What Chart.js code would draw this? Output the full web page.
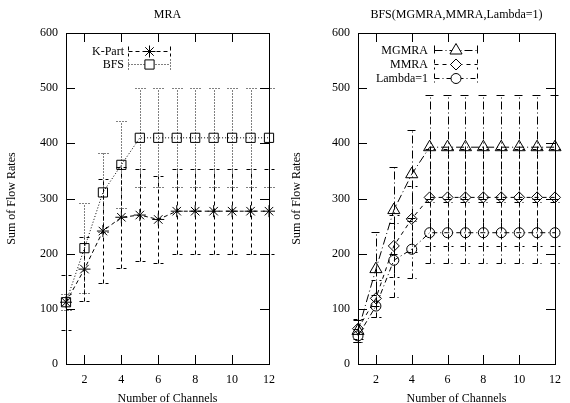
<!DOCTYPE html>
<html>
<head>
<meta charset="utf-8">
<script src="https://cdn.jsdelivr.net/npm/chart.js@4"></script>
<style>
html, body { margin: 0; padding: 0; background: #fff; }
#wrap { display: flex; width: 570px; height: 403px; }
.cell { width: 285px; height: 403px; position: relative; }
</style>
</head>
<body>
<div id="wrap">
  <div class="cell"><canvas id="left"></canvas></div>
  <div class="cell"><canvas id="right"></canvas></div>
</div>
<script>
// data
const channels = [1, 2, 3, 4, 5, 6, 7, 8, 9, 10, 11, 12];
const xTicks = [2, 4, 6, 8, 10, 12];
const yTicks = [0, 100, 200, 300, 400, 500, 600];

// MRA panel
const kpart    = [112, 172, 241, 266, 270, 262, 277, 277, 277, 277, 277, 277];
const kpartErr = [50, 58, 94, 92, 83, 79, 77, 77, 77, 77, 77, 77];
const bfs      = [112, 210, 311, 361, 410, 410, 410, 410, 410, 410, 410, 410];
const bfsErr   = [14, 81, 71, 79, 90, 90, 90, 90, 90, 90, 90, 90];

// BFS panel
const mgmra      = [60, 172, 279, 344, 393, 393, 393, 393, 393, 393, 393, 393];
const mgmraErr   = [20, 67, 79, 80, 94, 94, 94, 94, 94, 94, 94, 94];
const mmra       = [64, 119, 214, 263, 302, 302, 302, 302, 302, 302, 302, 302];
const mmraErr    = [18, 33, 56, 60, 88, 88, 88, 88, 88, 88, 88, 88];
const lambda1    = [51, 105, 188, 208, 238, 238, 238, 238, 238, 238, 238, 238];
const lambda1Err = [12, 20, 67, 52, 55, 55, 55, 55, 55, 55, 55, 55];

const FONT = 'Liberation Serif';

function series(label, values, errs, dash, style, radius) {
  return {
    label: label,
    data: values.map((v, i) => ({ x: channels[i], y: v })),
    errors: errs,
    borderColor: '#000',
    borderWidth: 1,
    borderDash: dash,
    pointStyle: style,
    pointRadius: radius,
    pointBorderColor: '#000',
    pointBackgroundColor: 'rgba(0,0,0,0)',
    pointBorderWidth: 1,
    clip: false,
    tension: 0
  };
}

// vertical error bars with caps, same dash as the line
const errorBars = {
  id: 'errorBars',
  beforeDatasetsDraw(chart) {
    const { ctx, scales: { x, y } } = chart;
    ctx.save();
    ctx.strokeStyle = '#000';
    ctx.lineWidth = 1;
    chart.data.datasets.forEach(ds => {
      ctx.setLineDash(ds.borderDash);
      ctx.beginPath();
      ds.data.forEach((p, i) => {
        const e = ds.errors[i];
        const px = Math.round(x.getPixelForValue(p.x)) + 0.5;
        const lo = Math.round(y.getPixelForValue(p.y - e)) + 0.5;
        const hi = Math.round(y.getPixelForValue(p.y + e)) + 0.5;
        ctx.moveTo(px, lo); ctx.lineTo(px, hi);
        ctx.moveTo(px - 5, lo); ctx.lineTo(px + 5, lo);
        ctx.moveTo(px - 5, hi); ctx.lineTo(px + 5, hi);
      });
      ctx.stroke();
    });
    ctx.restore();
  }
};

// gnuplot-like frame, inward ticks, title and key
const frame = {
  id: 'frame',
  afterDraw(chart, args, opts) {
    const { ctx, chartArea: a, scales: { x, y } } = chart;
    ctx.save();
    ctx.strokeStyle = '#000';
    ctx.lineWidth = 1;
    ctx.setLineDash([]);
    ctx.beginPath();
    x.ticks.forEach(t => {
      const px = Math.round(x.getPixelForValue(t.value)) + 0.5;
      ctx.moveTo(px, a.bottom); ctx.lineTo(px, a.bottom - 9);
      ctx.moveTo(px, a.top); ctx.lineTo(px, a.top + 9);
    });
    y.ticks.forEach(t => {
      const py = Math.round(y.getPixelForValue(t.value)) + 0.5;
      ctx.moveTo(a.left, py); ctx.lineTo(a.left + 9, py);
      ctx.moveTo(a.right, py); ctx.lineTo(a.right - 9, py);
    });
    ctx.stroke();
    ctx.strokeRect(Math.round(a.left) + 0.5, Math.round(a.top) + 0.5,
      Math.round(a.right - a.left), Math.round(a.bottom - a.top));

    ctx.fillStyle = '#000';
    ctx.font = '12px "' + FONT + '"';
    ctx.textAlign = 'center';
    ctx.textBaseline = 'middle';
    ctx.fillText(opts.title, (a.left + a.right) / 2, 15);

    // key
    const k = opts.key;
    chart.data.datasets.forEach((ds, i) => {
      const ry = k.rows[i] + 0.5;
      ctx.textAlign = 'right';
      ctx.fillText(ds.label, k.textRight, ry);
      ctx.setLineDash(ds.borderDash);
      ctx.beginPath();
      ctx.moveTo(k.x1 + 0.5, ry); ctx.lineTo(k.x2 + 0.5, ry);
      ctx.moveTo(k.x1 + 0.5, ry - 5); ctx.lineTo(k.x1 + 0.5, ry + 5);
      ctx.moveTo(k.x2 + 0.5, ry - 5); ctx.lineTo(k.x2 + 0.5, ry + 5);
      ctx.stroke();
      ctx.setLineDash([]);
      ctx.fillStyle = '#fff';
      Chart.helpers.drawPoint(ctx, { pointStyle: ds.pointStyle, radius: ds.pointRadius, rotation: 0, borderWidth: 1 },
        (k.x1 + k.x2) / 2 + 0.5, ry);
      ctx.fillStyle = '#000';
    });
    ctx.restore();
  }
};

function makeChart(id, datasets, title, key, leftWidth, padRight) {
  return new Chart(document.getElementById(id), {
    type: 'line',
    data: { datasets: datasets },
    options: {
      responsive: false,
      animation: false,
      layout: { padding: { top: 33, right: padRight, bottom: 0, left: 0 } },
      plugins: {
        legend: { display: false },
        tooltip: { enabled: false },
        frame: { title: title, key: key }
      },
      scales: {
        x: {
          type: 'linear', min: 1, max: 12,
          afterBuildTicks: s => { s.ticks = xTicks.map(v => ({ value: v })); },
          afterFit: s => { s.height = 39; },
          grid: { display: false, drawTicks: false },
          border: { display: false },
          ticks: { color: '#000', padding: 9, maxRotation: 0, font: { family: FONT, size: 12 } },
          title: { display: true, text: 'Number of Channels', color: '#000', padding: { top: 0, bottom: -3 }, font: { family: FONT, size: 12 } }
        },
        y: {
          min: 0, max: 600,
          afterBuildTicks: s => { s.ticks = yTicks.map(v => ({ value: v })); },
          afterFit: s => { s.width = leftWidth; },
          grid: { display: false, drawTicks: false },
          border: { display: false },
          ticks: { color: '#000', padding: 8, font: { family: FONT, size: 12 } },
          title: { display: true, text: 'Sum of Flow Rates', color: '#000', padding: { top: 5, bottom: 0 }, font: { family: FONT, size: 12 } }
        }
      }
    },
    plugins: [errorBars, frame]
  });
}

document.getElementById('left').width = 285;
document.getElementById('left').height = 403;
document.getElementById('right').width = 285;
document.getElementById('right').height = 403;

makeChart('left', [
  series('K-Part', kpart, kpartErr, [4, 3], 'star', 6),
  series('BFS', bfs, bfsErr, [1, 2], 'rect', 6.5)
], 'MRA', { textRight: 124, x1: 128, x2: 170, rows: [51, 64] }, 66, 16);

makeChart('right', [
  series('MGMRA', mgmra, mgmraErr, [8, 3, 1, 3], 'triangle', 7),
  series('MMRA', mmra, mmraErr, [4, 4], 'rectRot', 5.5),
  series('Lambda=1', lambda1, lambda1Err, [5, 3, 1, 3], 'circle', 5)
], 'BFS(MGMRA,MMRA,Lambda=1)', { textRight: 143, x1: 149, x2: 192, rows: [50, 64, 78] }, 73, 8);
</script>
</body>
</html>
